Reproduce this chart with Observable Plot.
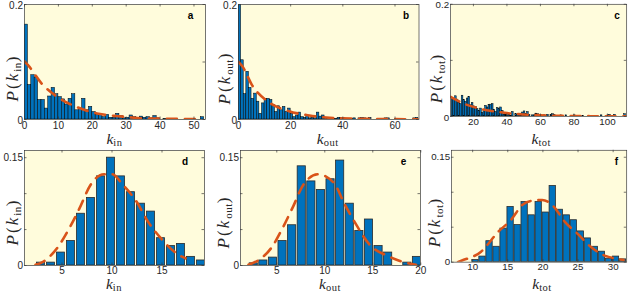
<!DOCTYPE html>
<html><head><meta charset="utf-8">
<script src="https://cdn.jsdelivr.net/npm/d3@7"></script>
<script src="https://cdn.jsdelivr.net/npm/@observablehq/plot@0.6"></script>
<style>
html,body{margin:0;padding:0;background:#fff;}
#fig{position:relative;width:634px;height:292px;overflow:hidden;font-family:"Liberation Sans",Arial,sans-serif;}
.panel{position:absolute;}
.panel svg{overflow:visible;display:block;}
.ylab,.xlab{position:absolute;font-family:"Liberation Serif","Times New Roman",serif;font-size:15.5px;color:#262626;white-space:nowrap;line-height:0.75;}
.ylab{font-size:17px;letter-spacing:2px;transform:translate(-50%,-50%) rotate(-90deg);}
.xlab{transform:translate(-50%,-50%);}
.sub{font-style:normal;font-size:11px;position:relative;top:2.5px;letter-spacing:0.5px;line-height:0.75;}
.xlab .sub{font-size:10.5px;top:2px;}
.letter{position:absolute;font-weight:bold;font-size:10px;color:#000;transform:translate(-50%,-50%);line-height:1;}
</style></head><body><div id="fig"></div>
<script>
// ---------- data ----------
// top row: histograms with unit bins, first bin start given
const aFirstBin = 0;
const aValues = [0.165,0.060,0.077,0.073,0.034,0.034,0.019,0.040,0.055,0.044,
 0.039,0.035,0.026,0.036,0.044,0.016,0.019,0.036,0.016,0.022,
 0.013,0.008,0.008,0.004,0.008,0.003,0.003,0.010,0.006,0.002,
 0.003,0.007,0.004,0.002,0.005,0.003,0.004,0.002,0.006,0.002,
 0,0.001,0,0,0.001,0,0,0,0,0,
 0,0,0.004];
const aFit = [[0,0.101],[1.1,0.094],[5,0.063],[10,0.038],[15.7,0.021],[21.9,0.010],[27,0.006],[30,0.0045],[35,0.002],[40,0.0015],[45,0.001],[52,0.0005]];

const bFirstBin = 0;
const bValues = [0.23,0.103,0.044,0.083,0.055,0.036,0.045,0.031,0.010,0.028,
 0.036,0.036,0.034,0.025,0.013,0.023,0.016,0.022,0.013,0.019,
 0.010,0.004,0.007,0.012,0.004,0.003,0.006,0.002,0.003,0.002,
 0.012,0.005,0.007,0.003,0.002,0.002,0.001,0.001,0.003,0.003,
 0.002,0.001,0,0.001,0.002,0,0.002,0.003,0.002,0.001,
 0.003,0,0,0,0,0,0.002,0.002,0,0,
 0,0,0,0,0,0,0,0.002,0.003,0];
const bFit = [[0,0.1],[1.4,0.093],[5.3,0.059],[11.7,0.030],[19.4,0.0145],[27.2,0.007],[35,0.003],[45,0.0015],[55,0.0008],[69,0.0003]];

const cFirstBin = 7;
const cValues = [0.033,0.031,0.036,0.030,0.024,0.022,0.037,0.029,0.026,0.032,
 0.035,0.020,0.024,0.018,0.017,0.013,0.010,0.014,0.006,0.012,
 0.019,0.016,0.020,0.021,0.022,0.012,0.008,0.015,0.013,0.016,
 0.010,0.003,0.003,0.002,0.003,0.001,0.008,0,0.004,0.003,
 0.002,0.005,0.007,0.009,0.004,0.008,0.003,0,0.002,0.002,
 0.005,0.004,0,0.002,0,0.002,0,0.003,0,0.003,
 0.004,0.003,0,0.001,0,0.002,0,0,0.002,0,
 0,0,0,0.002,0,0,0,0,0.001,0,
 0,0,0,0,0,0,0,0,0,0.002,
 0,0,0,0.002,0.003,0,0,0.003,0,0,
 0,0,0,0.004];
const cFit = [[6.4,0.035],[10,0.029],[15,0.022],[20,0.017],[25,0.013],[30,0.010],[35,0.008],[40,0.006],[50,0.0035],[60,0.002],[70,0.0012],[80,0.0008],[90,0.0005],[100,0.0003],[111,0.0002]];

// bottom row: bar centres and heights
const dCenters = [2.9,3.9,4.9,5.9,6.9,7.9,8.9,9.9,10.9,11.9,12.9,13.9,14.9,15.9,16.9,17.9,18.9];
const dValues = [0.004,0.004,0.018,0.034,0.072,0.094,0.124,0.150,0.124,0.102,0.086,0.075,0.038,0.027,0.030,0.012,0.007];
const dFit = [[2.35,0.001],[3.1,0.005],[4.5,0.024],[5.7,0.051],[6.7,0.078],[7.85,0.112],[9.2,0.127],[10.0,0.127],[11.1,0.112],[12.45,0.089],[13.6,0.061],[14.95,0.037],[16.75,0.014],[17.35,0.010]];

const eCenters = [2.6,3.6,4.6,5.6,6.6,7.6,8.6,9.6,10.6,11.6,12.6,13.6,14.6,15.6,16.6,17.6,18.6,19.6];
const eValues = [0.003,0.007,0.011,0.034,0.056,0.138,0.117,0.105,0.120,0.146,0.086,0.048,0.064,0.027,0.018,0,0.004,0.012];
const eFit = [[2.05,0.001],[3.26,0.009],[4.4,0.024],[5.6,0.052],[6.7,0.082],[7.8,0.113],[9.3,0.127],[11.0,0.114],[12.0,0.087],[13.4,0.054],[14.6,0.030],[16.6,0.013],[18.4,0.004],[19.5,0.001]];

const fCenters = [10.4,11.4,12.4,13.4,14.4,15.4,16.4,17.4,18.4,19.4,20.4,21.4,22.4,23.4,24.4,25.4,26.4,27.4,28.4,29.4,30.4,31.4];
const fValues = [0.003,0.008,0.030,0.022,0.048,0.079,0.053,0.086,0.067,0.086,0.071,0.109,0.075,0.067,0.060,0.044,0.034,0.022,0.015,0.005,0.008,0.004];
const fFit = [[7.9,0],[8.4,0.002],[11.2,0.015],[13.6,0.043],[15.5,0.061],[17.1,0.082],[18.5,0.088],[19.9,0.089],[21.5,0.080],[23.1,0.058],[25,0.040],[26.8,0.022],[28.9,0.009],[30.5,0.005],[31.5,0.003]];

// tick values and labels
const aTicks = [0,10,20,30,40,50];
const bTicks = [0,20,40,60];
const cTicks = [20,40,60,80,100];
const dTicks = [5,10,15];
const eTicks = [5,10,15,20];
const fTicks = [10,15,20,25,30];
const topYTicks = [0,0.1,0.2];
const topYLabels = [0,0.2];
const botYTicks = [0,0.05,0.1,0.15];
const botYLabels = [0,0.15];
const subs = ["in","out","tot","in","out","tot"];
const letters = ["a","b","c","d","e","f"];

// ---------- drawing ----------
const BLUE = "#0072BD", ORANGE = "#D95319", BG = "#fffcdc", AX = "#3a3a3a";
const fig = document.getElementById("fig");
const fmt = d => String(d);

function histRows(first, values){ return values.map((p,i)=>({x1:first+i, x2:first+i+1, p})); }
function barRows(centers, values, w){ return values.map((p,i)=>({x1:centers[i]-w/2, x2:centers[i]+w/2, p})); }

const panels = [
 {rows:histRows(aFirstBin,aValues), fit:aFit, left:24, top:4, w:181, h:115, xd:[0,53.4], yd:[0,0.2], xt:aTicks, yt:topYTicks, yl:topYLabels, stroke:"#000", sw:0.5, ylx:13, yly:78, xly:138.5, lx:190.5, ly:16, ydy:1, xpad:2},
 {rows:histRows(bFirstBin,bValues), fit:bFit, left:237.5, top:4, w:180.5, h:115, xd:[0,69.2], yd:[0,0.2], xt:bTicks, yt:topYTicks, yl:topYLabels, stroke:"#000", sw:0.5, ylx:225, yly:78, xly:138.5, lx:406, ly:16, ydy:1, xpad:2},
 {rows:histRows(cFirstBin,cValues), fit:cFit, left:451, top:4, w:180.5, h:115, xd:[6.4,111.5], yd:[0,0.2], xt:cTicks, yt:topYTicks, yl:topYLabels, stroke:"#000", sw:0.5, ylx:437, yly:78, xly:138.5, lx:617, ly:16, ydy:1, xpad:2},
 {rows:barRows(dCenters,dValues,0.8), fit:dFit, left:24, top:150, w:180, h:115, xd:[1.25,19.25], yd:[0,0.16], xt:dTicks, yt:botYTicks, yl:botYLabels, stroke:"#2a2a2a", sw:0.8, ylx:13, yly:222, xly:284, lx:185, ly:162, ydy:0, xpad:1},
 {rows:barRows(eCenters,eValues,0.85), fit:eFit, left:240, top:150, w:180, h:115, xd:[1.22,19.97], yd:[0,0.16], xt:eTicks, yt:botYTicks, yl:botYLabels, stroke:"#2a2a2a", sw:0.8, ylx:224, yly:222, xly:284, lx:403.5, ly:162, ydy:0, xpad:1},
 {rows:barRows(fCenters,fValues,0.9), fit:fFit, left:452, top:150, w:180, h:115, xd:[7.0,31.93], yd:[0,0.16], xt:fTicks, yt:botYTicks, yl:botYLabels, stroke:"#2a2a2a", sw:0.8, ylx:435, yly:222, xly:284, lx:616.3, ly:162, ydy:0, xpad:1}
];

const ML = 34, MR = 8, MT = 8, MB = 26, TL = 2.5;
panels.forEach((P, i) => {
  const chart = Plot.plot({
    width: P.w + ML + MR, height: P.h + MT + MB,
    marginLeft: ML, marginRight: MR, marginTop: MT, marginBottom: MB,
    x: {domain: P.xd, label: null},
    y: {domain: P.yd, label: null},
    style: {fontFamily: "'Liberation Sans', Arial, sans-serif", fontSize: "10px", color: "#262626", background: "transparent", overflow: "visible"},
    marks: [
      Plot.frame({fill: BG, stroke: null}),
      Plot.rectY(P.rows, {x1: "x1", x2: "x2", y: "p", fill: BLUE, stroke: P.stroke, strokeWidth: P.sw, clip: true}),
      Plot.line(P.fit, {x: d => d[0], y: d => d[1], stroke: ORANGE, strokeWidth: 2.6, strokeDasharray: "10,8", curve: "monotone-x", clip: true}),
      Plot.frame({stroke: AX, strokeWidth: 0.7}),
      Plot.tickX(P.xt, {x: d => d, insetTop: P.h - TL, stroke: AX, strokeWidth: 0.7}),
      Plot.tickX(P.xt, {x: d => d, insetBottom: P.h - TL, stroke: AX, strokeWidth: 0.7}),
      Plot.tickY(P.yt, {y: d => d, insetRight: P.w - TL, stroke: AX, strokeWidth: 0.7}),
      Plot.tickY(P.yt, {y: d => d, insetLeft: P.w - TL, stroke: AX, strokeWidth: 0.7}),
      Plot.axisX({ticks: P.xt, tickSize: 0, tickPadding: P.xpad, tickFormat: fmt, label: null}),
      Plot.axisY({ticks: P.yl, tickSize: 0, tickPadding: 1.5, tickFormat: fmt, label: null, dy: P.ydy})
    ]
  });
  const holder = document.createElement("div");
  holder.className = "panel";
  holder.style.left = (P.left - ML) + "px";
  holder.style.top = (P.top - MT) + "px";
  holder.appendChild(chart);
  fig.appendChild(holder);

  const yl = document.createElement("div");
  yl.className = "ylab";
  yl.style.left = P.ylx + "px"; yl.style.top = P.yly + "px";
  yl.innerHTML = `<i>P</i>(<i>k</i><span class="sub">${subs[i]}</span>)`;
  fig.appendChild(yl);

  const xl = document.createElement("div");
  xl.className = "xlab";
  xl.style.left = (P.left + P.w / 2) + "px"; xl.style.top = P.xly + "px";
  xl.innerHTML = `<i>k</i><span class="sub">${subs[i]}</span>`;
  fig.appendChild(xl);

  const lt = document.createElement("div");
  lt.className = "letter";
  lt.style.left = P.lx + "px"; lt.style.top = P.ly + "px";
  lt.textContent = letters[i];
  fig.appendChild(lt);
});
</script>
</body></html>
